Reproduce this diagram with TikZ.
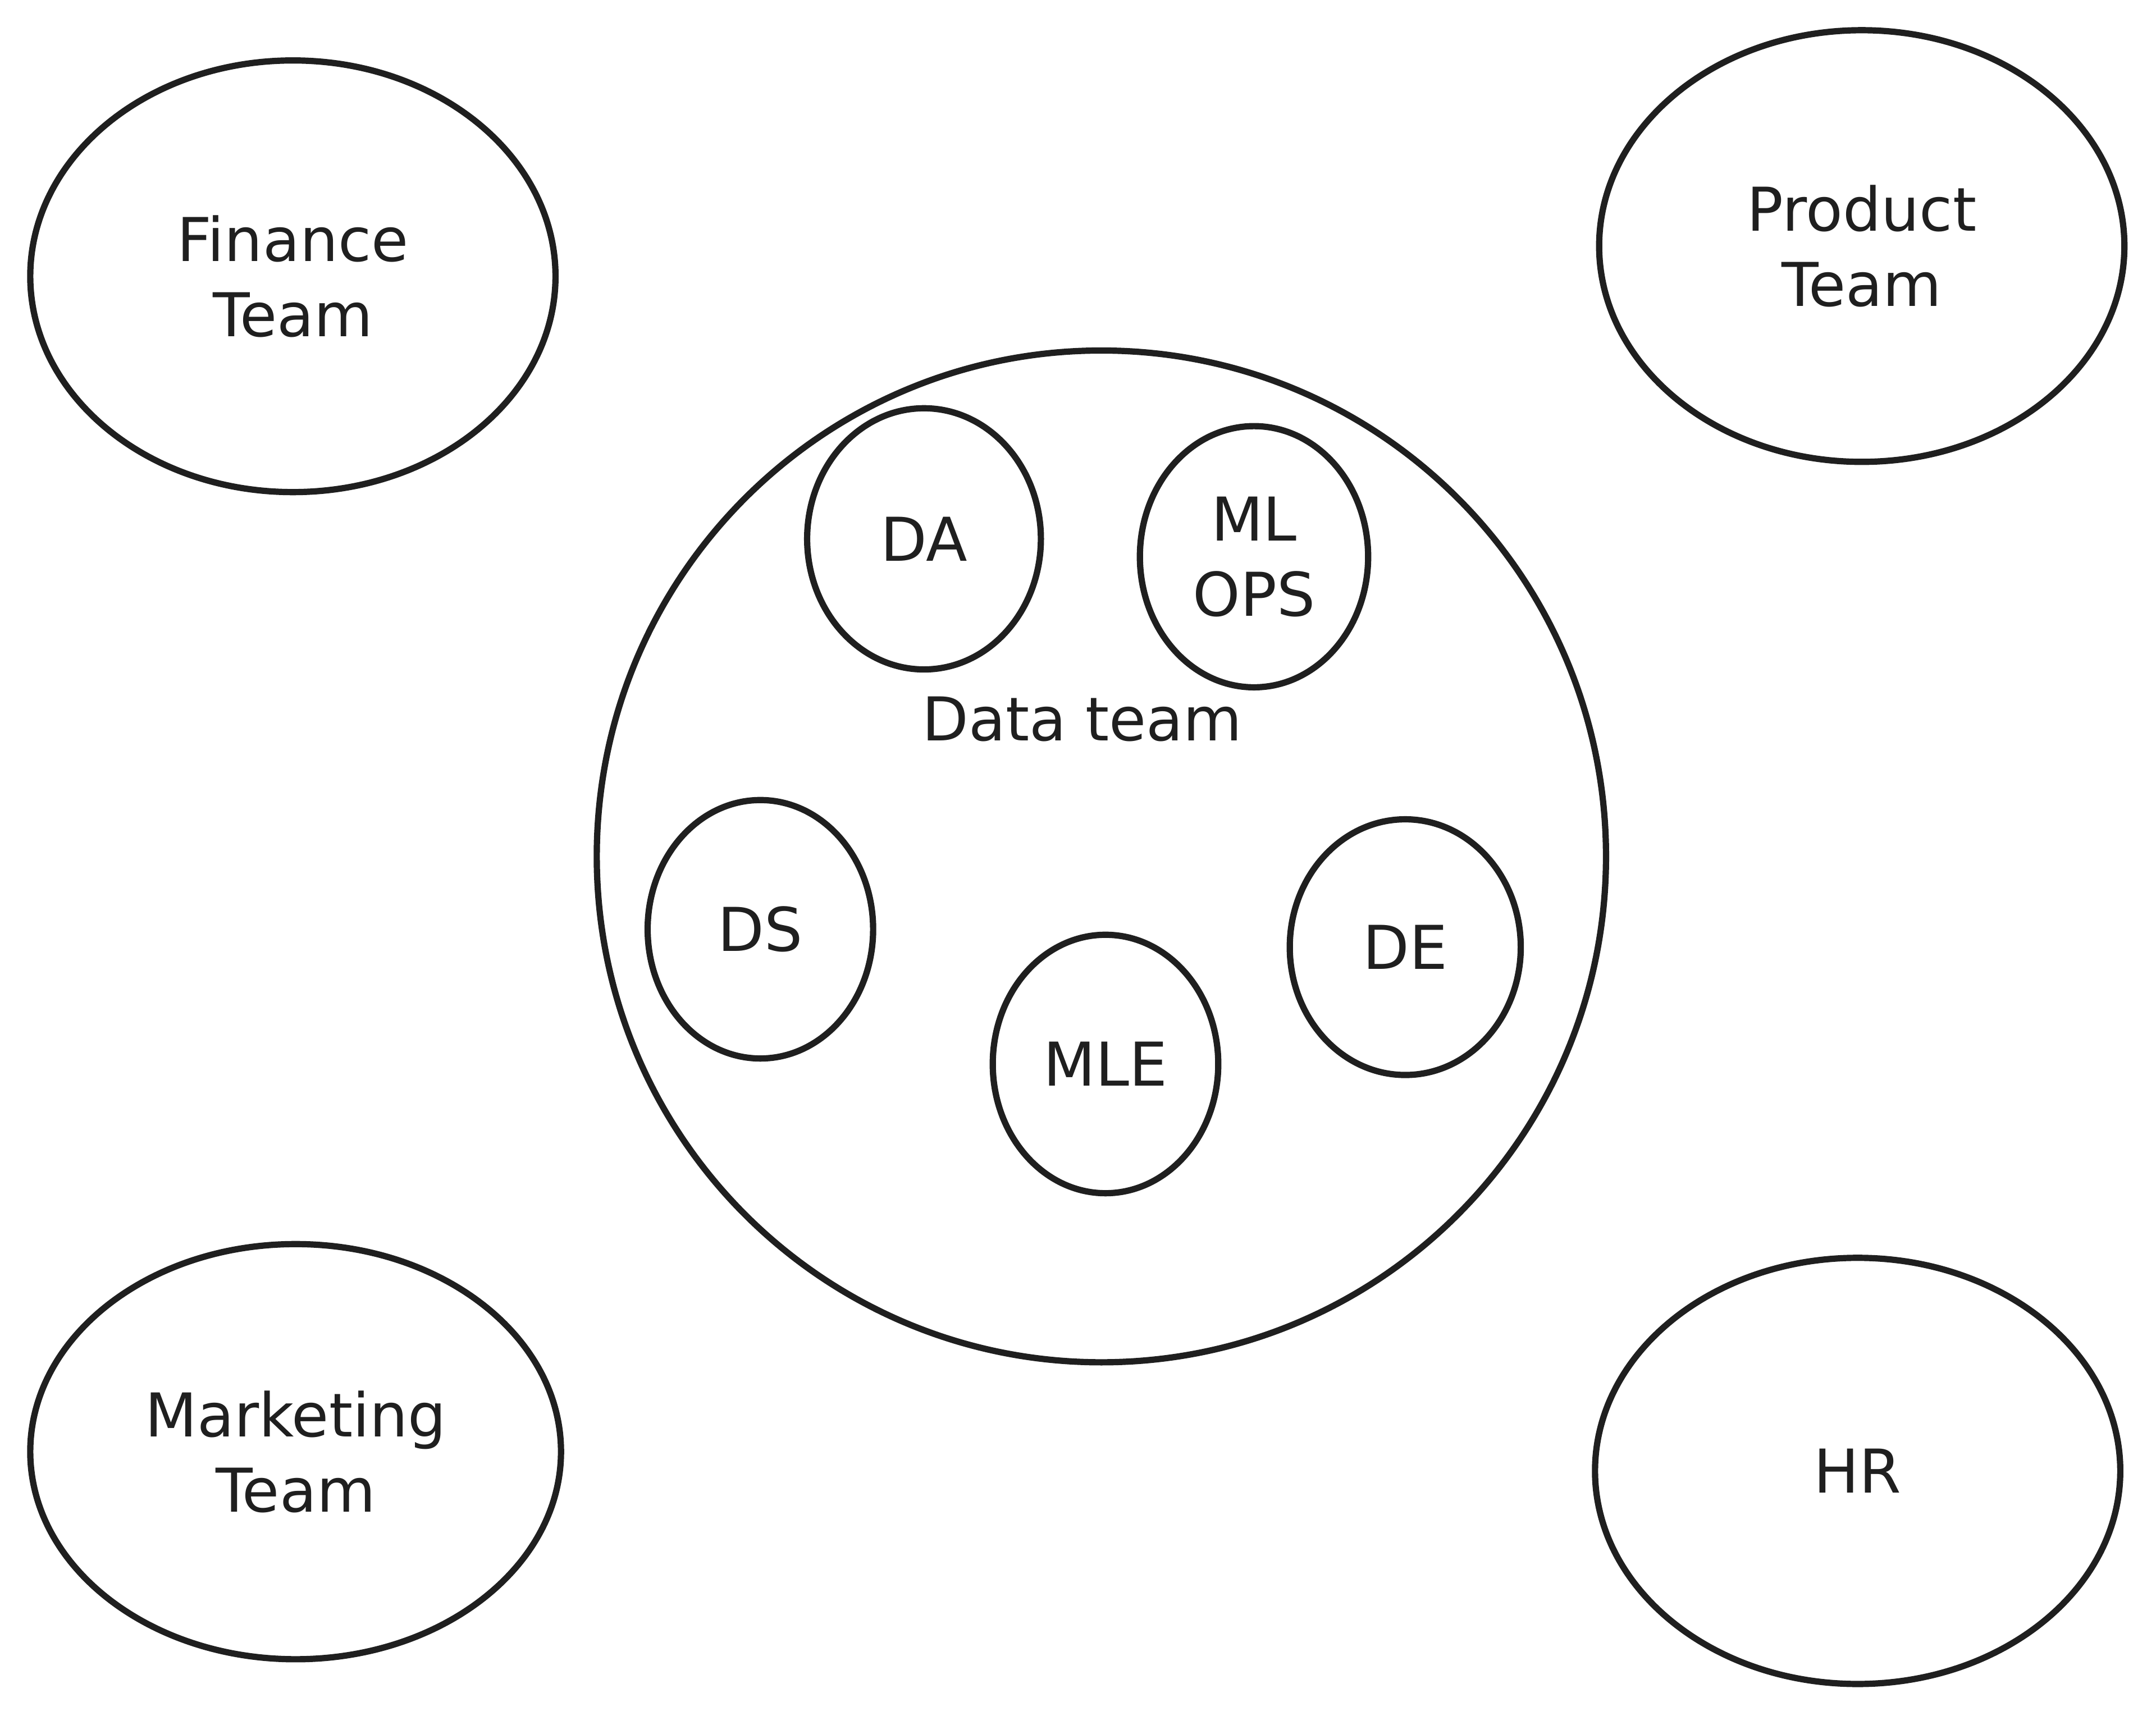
\documentclass[tikz,border=0pt]{standalone}
\usepackage{fontspec}
\setmainfont{DejaVu Sans}
\begin{document}
\begin{tikzpicture}[line width=1.3pt,font=\fontsize{12.5}{15.6}\selectfont]
			\colorlet{Trazo}{black!88}
			\useasboundingbox (0,0) rectangle (15.68,12.48);
			\def\ElipFin{(2.13,10.47) ellipse (1.91cm and 1.57cm)}
			\def\ElipProd{(13.54,10.69) ellipse (1.91cm and 1.57cm)}
			\def\ElipMark{(2.15,1.92) ellipse (1.93cm and 1.51cm)}
			\def\ElipHR{(13.51,1.78) ellipse (1.91cm and 1.55cm)}
			\def\ElipDatos{(8.01,6.25) ellipse (3.67cm and 3.68cm)}
			\def\ElipDA{(6.72,8.56) ellipse (0.85cm and 0.95cm)}
			\def\ElipOps{(9.12,8.43) ellipse (0.83cm and 0.95cm)}
			\def\ElipDS{(5.53,5.72) ellipse (0.82cm and 0.94cm)}
			\def\ElipMLE{(8.04,4.74) ellipse (0.82cm and 0.94cm)}
			\def\ElipDE{(10.22,5.59) ellipse (0.84cm and 0.93cm)}
			\draw[Trazo] \ElipFin node[Trazo,align=center] (fin) {Finance\\Team};
			\draw[Trazo] \ElipProd node[Trazo,align=center] (prod) {Product\\Team};
			\draw[Trazo] \ElipMark node[Trazo,align=center] (mark) {Marketing\\Team};
			\draw[Trazo] \ElipHR node[Trazo] (hr) {HR};
			\draw[Trazo] \ElipDatos;
			\node[Trazo] (datos) at (7.87,7.25) {Data team};
			\draw[Trazo] \ElipDA node[Trazo] (da) {DA};
			\draw[Trazo] \ElipOps node[Trazo,align=center] (ops) {ML\\OPS};
			\draw[Trazo] \ElipDS node[Trazo] (ds) {DS};
			\draw[Trazo] \ElipMLE node[Trazo] (mle) {MLE};
			\draw[Trazo] \ElipDE node[Trazo] (de) {DE};
		\end{tikzpicture}
\end{document}
